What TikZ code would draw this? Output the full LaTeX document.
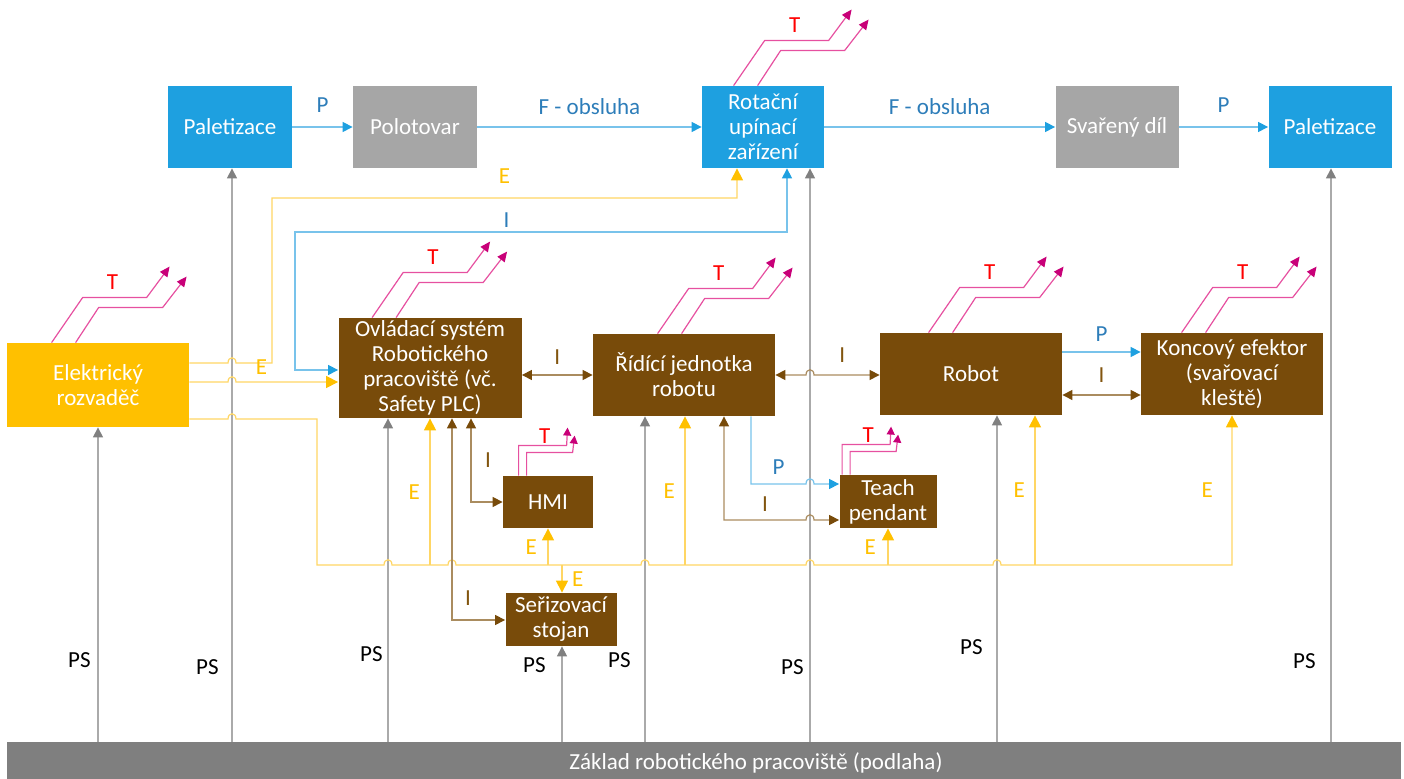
\documentclass[tikz,border=0pt]{standalone}
\usepackage{fontspec}
\setmainfont{Carlito}
\usetikzlibrary{arrows.meta,calc}

\definecolor{boxblue}{RGB}{30,160,224}
\definecolor{boxgray}{RGB}{166,166,166}
\definecolor{boxbrown}{RGB}{120,75,10}
\definecolor{boxyellow}{RGB}{255,192,0}
\definecolor{floorgray}{RGB}{127,127,127}
\definecolor{lineblue}{RGB}{120,195,235}
\definecolor{lineyellow}{RGB}{255,214,100}
\definecolor{linebrown}{RGB}{170,140,95}
\definecolor{linegray}{RGB}{170,170,170}
\definecolor{tipgray}{RGB}{128,128,128}
\definecolor{linepink}{RGB}{230,80,160}
\definecolor{tipmagenta}{RGB}{200,0,120}
\definecolor{labblue}{RGB}{45,125,185}
\definecolor{labbrown}{RGB}{130,85,15}

% small bump where a line jumps over a vertical one
\newcommand{\hopat}[2]{-- (#1-4,#2) .. controls +(0,-7) and +(0,-7) .. (#1+4,#2)}

\begin{document}
\begin{tikzpicture}[x=0.5pt,y=-0.5pt,
    font=\fontsize{11.5}{12.5}\selectfont,
    tipE/.tip={Triangle[length=6pt,width=6pt,color=boxyellow]},
    tipI/.tip={Triangle[length=5pt,width=5pt,color=boxbrown]},
    tipP/.tip={Triangle[length=5pt,width=5pt,color=boxblue]},
    tipPS/.tip={Triangle[length=5pt,width=5pt,color=tipgray]},
    tipT/.tip={Triangle[length=5pt,width=4.5pt,color=tipmagenta]},
    tipTs/.tip={Triangle[length=4pt,width=4pt,color=tipmagenta]},
    box/.style={text=white,align=center,inner sep=0.5pt,minimum width=91pt,minimum height=41pt},
    lab/.style={inner sep=1pt},
    elab/.style={lab,text=boxyellow},
    ilab/.style={lab,text=labbrown},
    plab/.style={lab,text=labblue},
    wire/.style={line width=0.6pt},
    pline/.style={wire,draw=lineblue,-tipP},
    eline/.style={wire,draw=lineyellow,-tipE},
    iline/.style={wire,draw=linebrown,tipI-tipI},
    psline/.style={wire,draw=linegray,-tipPS},
    tline/.style={wire,draw=linepink,-tipT},
    tsmall/.style={wire,draw=linepink,-tipTs}]
\useasboundingbox (0,0) rectangle (1404,779);

% boxes
\node[box,fill=boxblue,minimum width=62pt] (palL) at (230,127) {Paletizace};
\node[box,fill=boxgray,minimum width=62pt] (polot) at (415,127) {Polotovar};
\node[box,fill=boxblue,minimum width=61pt] (rot) at (763,127) {Rotační\\upínací\\zařízení};
\node[box,fill=boxgray,minimum width=61.5pt] (svar) at (1117,127) {Svařený díl};
\node[box,fill=boxblue,minimum width=61.5pt] (palR) at (1330,127) {Paletizace};

\node[box,fill=boxyellow,minimum height=42pt] (elek) at (98,385) {Elektrický\\rozvaděč};
\node[box,fill=boxbrown,minimum width=91.5pt,minimum height=50pt] (ovl) at (430,368) {Ovládací systém\\Robotického\\pracoviště (vč.\\Safety PLC)};
\node[box,fill=boxbrown] (rid) at (684,375) {Řídící jednotka\\robotu};
\node[box,fill=boxbrown] (robot) at (971,374) {Robot};
\node[box,fill=boxbrown] (konc) at (1232,374) {Koncový efektor\\(svařovací\\kleště)};
\node[box,fill=boxbrown,minimum width=45pt,minimum height=26pt] (hmi) at (548,502) {HMI};
\node[box,fill=boxbrown,minimum width=55.5pt,minimum height=26.5pt] (ser) at (561,619.5) {Seřizovací\\stojan};
\node[box,fill=boxbrown,minimum width=48.5pt,minimum height=26.5pt] (teach) at (888,501.5) {Teach\\pendant};

\node[fill=floorgray,minimum width=697pt,minimum height=18.5pt,inner sep=0pt,
  label={[text=white,xshift=26pt,yshift=-1pt]center:Základ robotického pracoviště (podlaha)}] (floor) at (704,760.5) {};

% PS - supports from the floor
\foreach \x/\nd/\p/\d in {98/elek/0.26/2.4pt,232/palL/0.13/5.4pt,388/ovl/0.27/1.4pt,562/ser/0.8/6.9pt,645/rid/0.25/5.9pt,810/rot/0.13/1.9pt,997/robot/0.29/5.9pt,1331/palR/0.14/6.4pt}
  \draw[psline] (\x,0 |- floor.north) -- node[pos=\p,left=\d,lab,text=black]{PS} (\x,0 |- \nd.south);

% material flow
\draw[pline] (palL) -- node[above=6pt,plab]{P} (polot);
\draw[pline] (polot) -- node[above=4.8pt,plab]{F - obsluha} (rot);
\draw[pline] (rot) -- node[above=4.8pt,plab]{F - obsluha} (svar);
\draw[pline] (svar) -- node[above=6pt,plab]{P} (palR);

% energy
\draw[eline] (elek.east |- 0,363) \hopat{232}{363} -- (272,363) -- (272,198) -- node[above=5.8pt,elab]{E} (737,198) -- (737,0 |- rot.south);
\draw[eline] (elek.east |- 0,382) \hopat{232}{382} -- node[pos=0.25,above=2.3pt,elab]{E} (ovl.west |- 0,382);
\draw[eline] (elek.east |- 0,419) \hopat{232}{419} -- (317,419) -- (317,565)
  \hopat{388}{565} \hopat{452}{565} \hopat{645}{565} \hopat{810}{565} \hopat{997}{565}
  -- (1232,565) -- node[left=8.3pt,elab]{E} (1232,0 |- konc.south);
\foreach \x/\nd/\d in {430/ovl/3.8pt,548/hmi/4.3pt,685/rid/3.8pt,888/teach/4.8pt,1035/robot/3.8pt}
  \draw[eline] (\x,565) -- node[left=\d,elab]{E} (\x,0 |- \nd.south);
\draw[eline] (562,565) -- node[right=3.8pt,elab]{E} (562,0 |- ser.north);

% information
\draw[wire,draw=lineblue,tipP-tipP] (787,0 |- rot.south) -- (787,232) -- node[pos=0.57,above=0.8pt,plab]{I} (295,232) -- (295,370) -- (ovl.west |- 0,370);
\draw[iline] (ovl.east |- rid.west) -- node[above=3.8pt,ilab]{I} (rid.west);
\draw[iline] (rid.east) \hopat{810}{375} -- node[pos=0.43,above=4.8pt,ilab]{I} (robot.west |- rid.east);
\draw[iline] (robot.east |- 0,395) -- node[above=4.8pt,ilab]{I} (konc.west |- 0,395);
\draw[pline] (robot.east |- 0,352) -- node[above=3.8pt,plab]{P} (konc.west |- 0,352);
\draw[iline] (471,0 |- ovl.south) -- node[right=5.7pt,ilab]{I} (471,502) -- (hmi.west);
\draw[iline] (452,0 |- ovl.south) -- node[pos=0.89,right=5.2pt,ilab]{I} (452,620) -- (ser.west |- 0,620);
\draw[iline] (724,0 |- rid.south) -- (724,520) -- node[above=2.8pt,ilab]{I} (806,520) .. controls +(0,-7) and +(0,-7) .. (814,520) -- (teach.west |- 0,520);
\draw[pline] (751,0 |- rid.south) -- (751,484) -- node[above=3.3pt,plab]{P} (806,484) .. controls +(0,-7) and +(0,-7) .. (814,484) -- (teach.west |- 0,484);

% T - heat
\foreach \nd/\dx in {elek/45,ovl/34,rot/32,rid/65,robot/49,konc/41}{
  \coordinate (t) at ($(\nd.north west)+(\dx,0)$);
  \draw[tline] (t) -- ++(31,-45) -- ++(64,0) -- ++(23,-31);
  \draw[tline] ($(t)+(24,0)$) -- ++(23,-35) -- ++(64,0) -- ++(24,-31);
  \node[lab,text=red] at ($(t)+(61,-60)$) {T};
}
\foreach \nd/\dx in {hmi/16,teach/3}{
  \coordinate (t) at ($(\nd.north west)+(\dx,0)$);
  \draw[tsmall] (t) -- ++(0,-30) -- ++(48,0) -- ++(1,-18);
  \draw[tsmall] ($(t)+(8,0)$) -- ++(0,-23) -- ++(46,0) -- ++(2,-17);
  \node[lab,text=red] at ($(t)+(26,-39)$) {T};
}
\end{tikzpicture}
\end{document}
